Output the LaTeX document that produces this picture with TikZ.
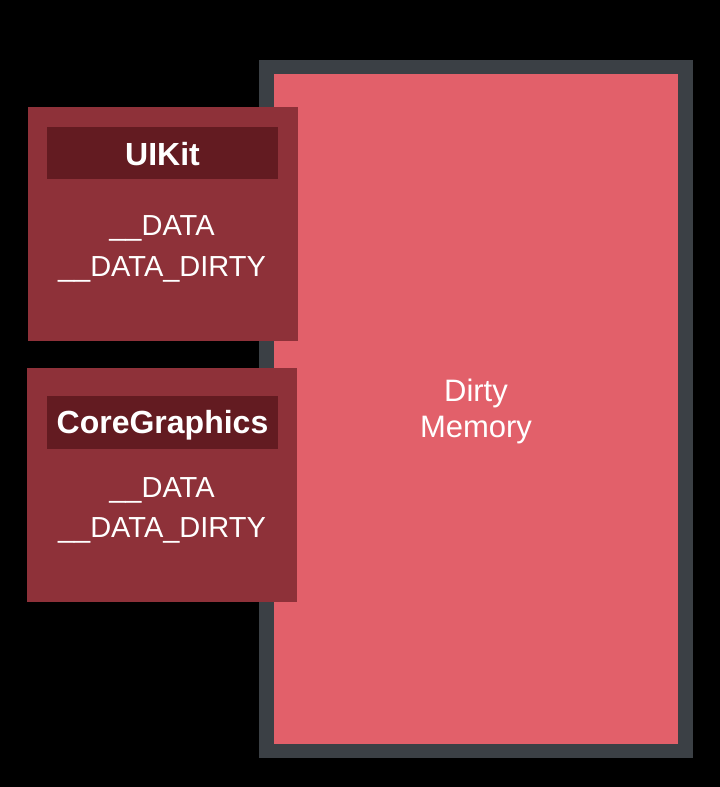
\documentclass[tikz,border=0pt]{standalone}
\usepackage{fontspec}
\setmainfont{Liberation Sans}
\definecolor{framegray}{HTML}{3B4045}
\definecolor{dirtypink}{HTML}{E2606A}
\definecolor{libbox}{HTML}{8E3139}
\definecolor{libhead}{HTML}{631B21}
\begin{document}
\begin{tikzpicture}[x=1pt,y=-1pt,
  bodytext/.style={text=white,anchor=base,inner sep=0pt,font=\fontsize{29}{36}\selectfont},
  memtext/.style={text=white,anchor=base,inner sep=0pt,font=\fontsize{31}{36}\selectfont},
  headtext/.style={text=white,anchor=base,inner sep=0pt,font=\bfseries\fontsize{32}{36}\selectfont}]
\fill[black] (0,0) rectangle (720,787);
\useasboundingbox (0,0) rectangle (720,787);
% memory region
\fill[framegray] (259,60) rectangle (693,758);
\fill[dirtypink] (274,74) rectangle (678,744);
\node[memtext] (dirty) at (476,401) {Dirty};
\node[memtext] (memory) at (476,437) {Memory};
% UIKit
\fill[libbox] (28,107) rectangle (298,341);
\fill[libhead] (47,127) rectangle (278,179);
\node[headtext] (uikit) at (162.5,165) {UIKit};
\node[bodytext] (ukdata) at (162,235) {\_\_DATA};
\node[bodytext] (ukdirty) at (162,276) {\_\_DATA\_DIRTY};
% CoreGraphics
\fill[libbox] (27,368) rectangle (297,602);
\fill[libhead] (47,396) rectangle (278,449);
\node[headtext] (cg) at (162.5,433) {CoreGraphics};
\node[bodytext] (cgdata) at (162,497) {\_\_DATA};
\node[bodytext] (cgdirty) at (162,537) {\_\_DATA\_DIRTY};
\end{tikzpicture}
\end{document}
